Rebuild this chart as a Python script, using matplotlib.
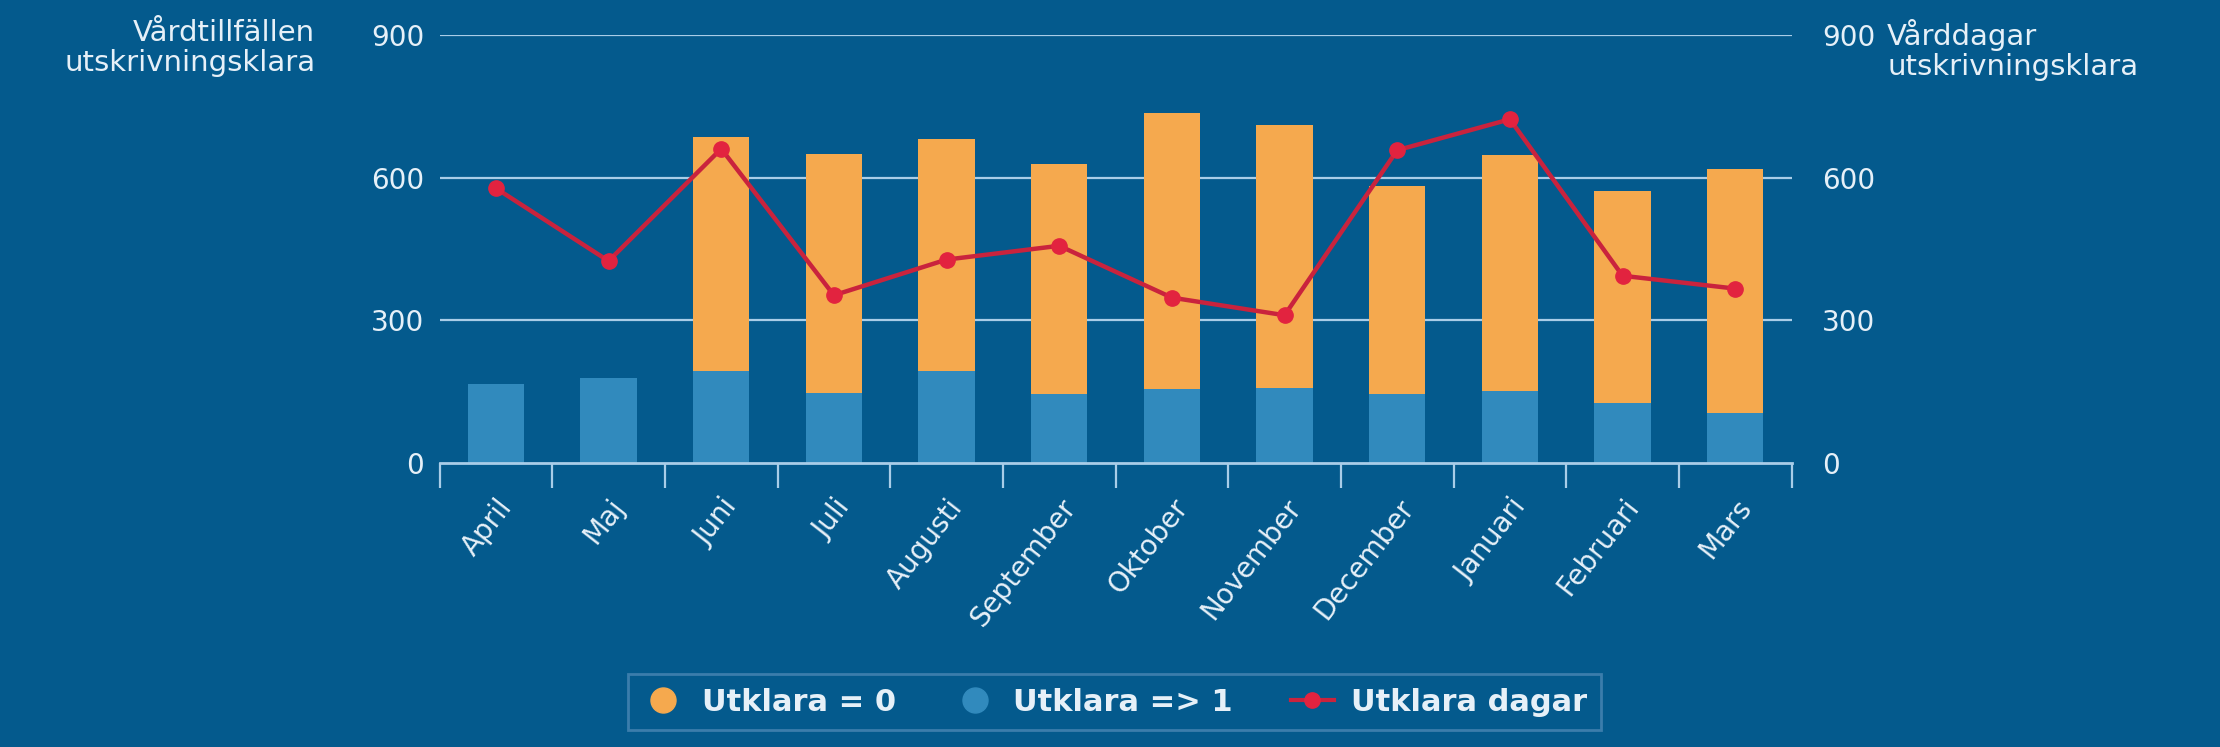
import matplotlib
matplotlib.use("Agg")
from matplotlib import pyplot as plt
from matplotlib.lines import Line2D

# Data
months = ["April", "Maj", "Juni", "Juli", "Augusti", "September", "Oktober",
          "November", "December", "Januari", "Februari", "Mars"]
utklara_1 = [167, 178, 194, 148, 194, 146, 155, 157, 146, 151, 126, 106]  # Utklara => 1
utklara_0 = [0, 0, 492, 502, 487, 483, 582, 554, 436, 497, 447, 512]      # Utklara = 0
utklara_dagar = [578, 425, 661, 353, 428, 457, 348, 311, 658, 723, 394, 367]
yticks = [0, 300, 600, 900]

bg = "#045A8D"
c_blue = "#318ABD"
c_orange = "#F5A94E"
c_red = "#C9233D"
c_marker = "#E2233F"
c_grid = "#A9CDE8"
c_text = "#E6F0F8"

plt.rcParams['font.family'] = ['DejaVu Sans']

fig = plt.figure(figsize=(22.2, 7.47), dpi=100, facecolor=bg)
ax = fig.add_axes([0.198, 0.380, 0.609, 0.573], facecolor=bg)
ax2 = ax.twinx()

x = list(range(len(months)))
ax.bar(x, utklara_1, width=0.5, color=c_blue, zorder=2)
ax.bar(x, utklara_0, width=0.5, bottom=utklara_1, color=c_orange, zorder=2)

ax2.plot(x, utklara_dagar, color=c_red, linewidth=3.2, marker="o",
         markersize=11, markerfacecolor=c_marker, markeredgecolor=c_marker, zorder=3)

# Axes setup
for a in (ax, ax2):
    a.set_ylim(0, 900)
    a.set_yticks(yticks)
    a.set_xlim(-0.5, len(months) - 0.5)
    for s in a.spines.values():
        s.set_visible(False)
ax.spines["bottom"].set_visible(True)
ax.spines["bottom"].set_color(c_grid)
ax.spines["bottom"].set_linewidth(2)

for yv in yticks[1:]:
    ax.axhline(yv, color=c_grid, linewidth=1.6, zorder=1)

ax.tick_params(axis="y", length=0, pad=11, labelsize=20, labelcolor=c_text)
ax2.tick_params(axis="y", length=0, pad=22, labelsize=20, labelcolor=c_text)

# category ticks between bars, labels centred on bars
ax.set_xticks([i - 0.5 for i in range(len(months) + 1)])
ax.set_xticklabels([])
ax.tick_params(axis="x", which="major", length=18, width=1.6, color=c_grid, direction="out")
ax.set_xticks(x, minor=True)
ax.set_xticklabels(months, minor=True, rotation=52, ha="right", va="top",
                   rotation_mode="anchor", fontsize=20, color=c_text)
ax.tick_params(axis="x", which="minor", length=0, pad=22)

# axis titles
fig.text(0.142, 0.975, "Vårdtillfällen\nutskrivningsklara", ha="right", va="top",
         fontsize=21, color=c_text, linespacing=1.1)
fig.text(0.850, 0.975, "Vårddagar\nutskrivningsklara", ha="left", va="top",
         fontsize=21, color=c_text, linespacing=1.1)

handles = [
    Line2D([], [], linestyle="none", marker="o", markersize=18,
           markerfacecolor=c_orange, markeredgecolor=c_orange),
    Line2D([], [], linestyle="none", marker="o", markersize=18,
           markerfacecolor=c_blue, markeredgecolor=c_blue),
    Line2D([], [], color=c_red, linewidth=3, marker="o", markersize=11,
           markerfacecolor=c_marker, markeredgecolor=c_marker),
]
labels = ["Utklara = 0", "Utklara => 1", "Utklara dagar"]
leg = fig.legend(handles, labels, loc="center", bbox_to_anchor=(0.502, 0.06), ncol=3,
                 frameon=True, fontsize=22, handlelength=1.4, handletextpad=0.55,
                 columnspacing=1.9, borderpad=0.45, fancybox=False)
leg.get_frame().set_facecolor(bg)
leg.get_frame().set_edgecolor("#4A86B4")
leg.get_frame().set_linewidth(2)
for t in leg.get_texts():
    t.set_color(c_text)
    t.set_fontweight("bold")

fig.savefig("out.png", dpi=100, facecolor=bg)
